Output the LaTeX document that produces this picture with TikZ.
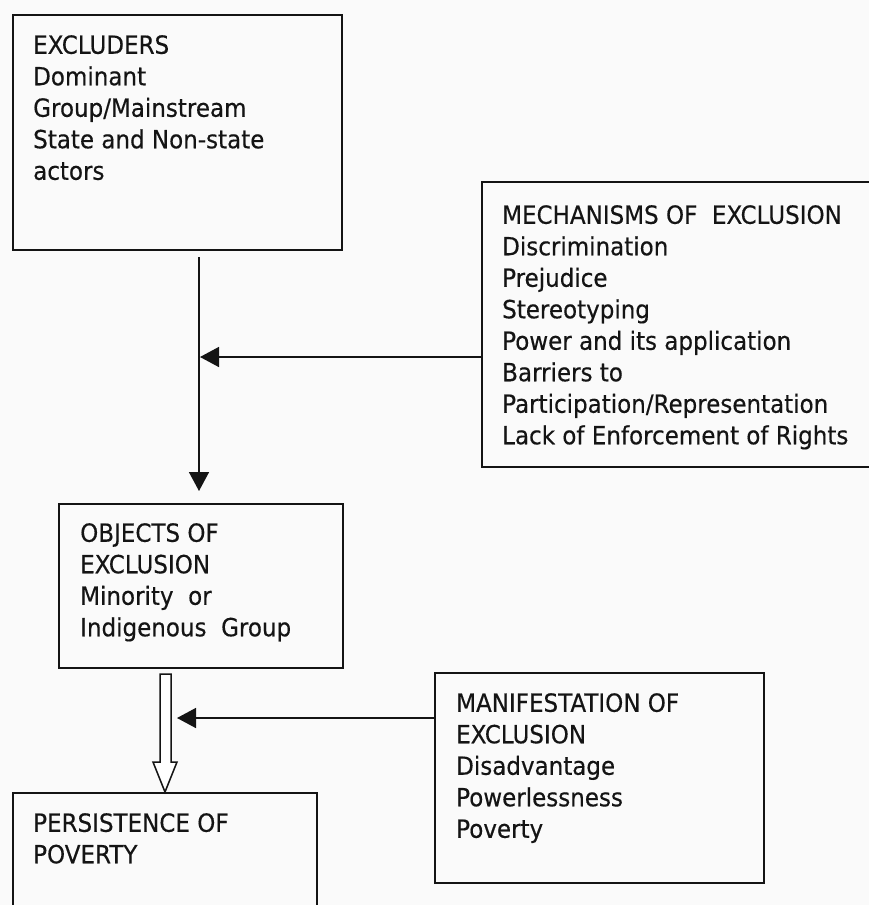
\documentclass[tikz,border=0pt]{standalone}
\usepackage{fontspec}
\setmainfont{DejaVu Sans}[FakeStretch=0.92,FakeBold=0.4]
\usetikzlibrary{arrows.meta}
\definecolor{bg}{RGB}{250,250,250}
\definecolor{ink}{RGB}{20,20,20}
\tikzset{
  x=1pt, y=-1pt,
  box/.style={draw=ink, line width=1.8pt, rectangle, inner sep=0pt, anchor=north west},
  txt/.style={anchor=north west, inner sep=0pt, align=left, text=ink,
              font=\fontsize{25}{31.5}\selectfont},
  arr/.style={draw=ink, line width=1.5pt, -{Triangle[length=19pt,width=20pt]}},
  hollow/.style={draw=ink, line width=1.5pt, fill=white, line join=miter}
}
\begin{document}
\begin{tikzpicture}
\useasboundingbox[fill=bg] (0,0) rectangle (869,905);
% boxes
\node[box, minimum width=329pt, minimum height=235pt] (b1) at (12,14) {};
\node[box, minimum width=395pt, minimum height=285pt] (b2) at (481,181) {};
\node[box, minimum width=284pt, minimum height=164pt] (b3) at (58,503) {};
\node[box, minimum width=329pt, minimum height=210pt] (b4) at (434,672) {};
\node[box, minimum width=304pt, minimum height=130pt] (b5) at (12,792) {};
% texts
\node[txt] (t1) at (33,35) {EXCLUDERS\\Dominant\\Group/Mainstream\\State and Non-state\\actors};
\node[txt] (t2) at (502,205) {MECHANISMS OF\ \ EXCLUSION\\Discrimination\\Prejudice\\Stereotyping\\Power and its application\\Barriers to\\Participation/Representation\\Lack of Enforcement of Rights};
\node[txt] (t3) at (80,523) {OBJECTS OF\\EXCLUSION\\Minority\ \ or\\Indigenous\ \ Group};
\node[txt] (t4) at (456,693) {MANIFESTATION OF\\EXCLUSION\\Disadvantage\\Powerlessness\\Poverty};
\node[txt] (t5) at (33,813) {PERSISTENCE OF\\POVERTY};
% connectors
\coordinate (a1s) at (199,257);
\coordinate (a1e) at (199,491);
\coordinate (m1) at (200,357);
\coordinate (m2) at (177,718);
\draw[arr] (a1s) -- (a1e);
\draw[arr] (b2.west |- m1) -- (m1);
\draw[arr] (b4.west |- m2) -- (m2);
% hollow block arrow from b3 to b5
\coordinate (h0) at (160,674);
\coordinate (tip) at (165,792);
\draw[hollow] (h0) -- (171,674) -- (171,762) -- (177,762) -- (tip) -- (153,762) -- (160,762) -- cycle;
\end{tikzpicture}
\end{document}
